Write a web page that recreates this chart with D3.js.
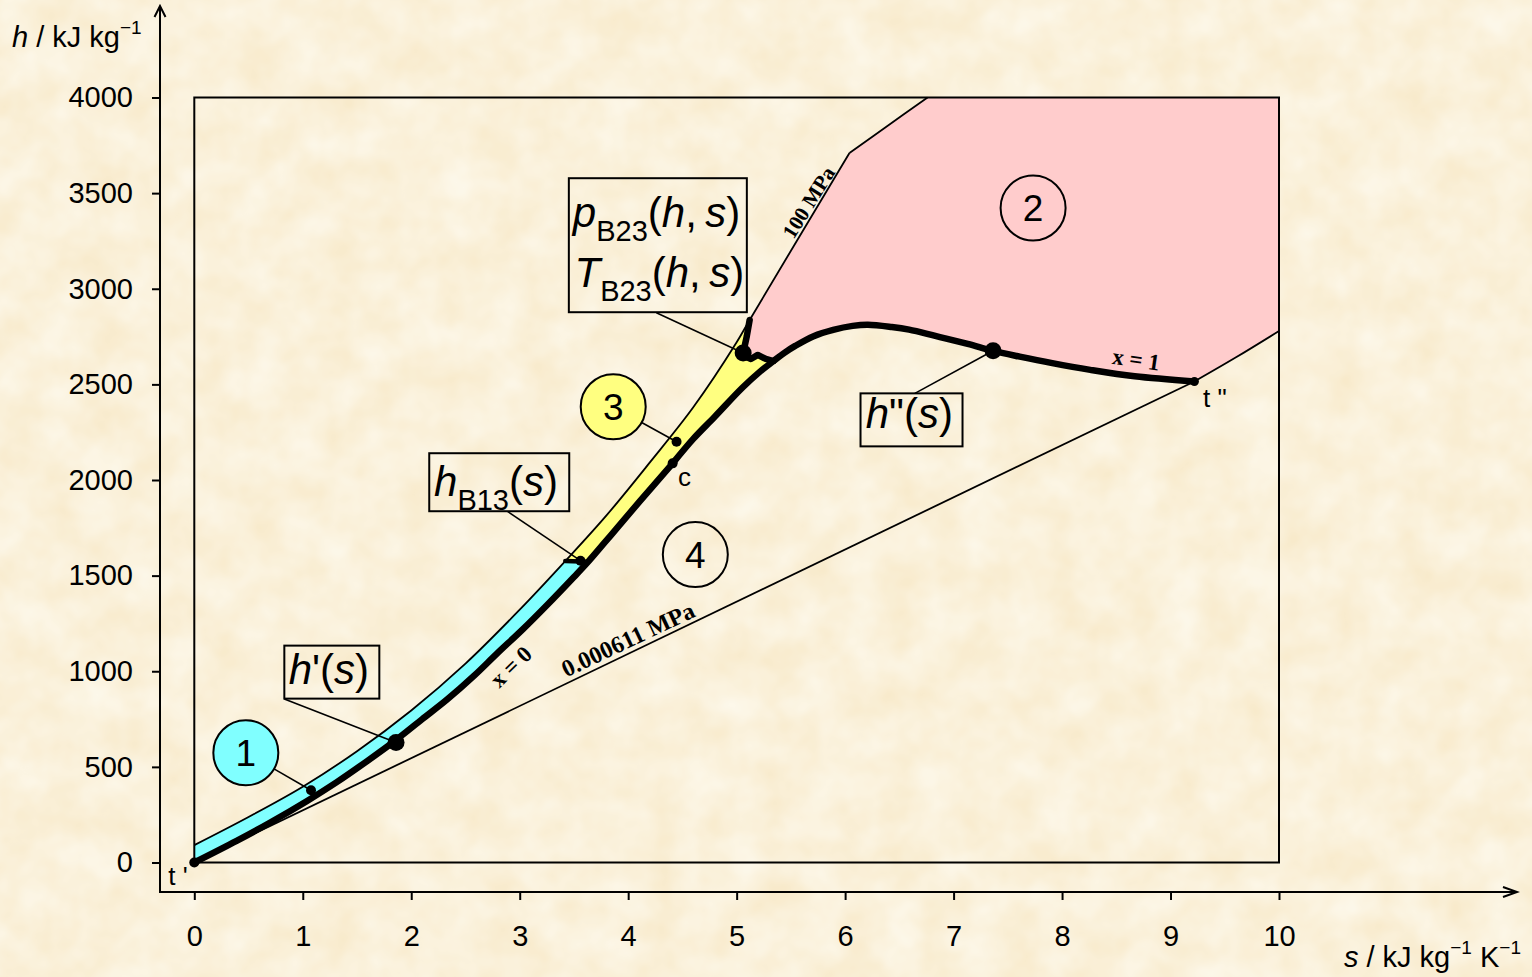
<!DOCTYPE html>
<html>
<head>
<meta charset="utf-8">
<script src="https://cdn.jsdelivr.net/npm/d3@7"></script>
<style>
  html, body { margin: 0; padding: 0; background: #f9eed3; }
  svg { display: block; }
  text { font-family: "Liberation Sans", Arial, Helvetica, sans-serif; fill: #000; }
  .serif { font-family: "Liberation Serif", "Times New Roman", serif; font-weight: bold; }
</style>
</head>
<body>
<div id="chart"></div>
<script>
// axis ticks
const sTicks = [0, 1, 2, 3, 4, 5, 6, 7, 8, 9, 10]
const hTicks = [0, 500, 1000, 1500, 2000, 2500, 3000, 3500, 4000]

// saturated liquid line x = 0, t' -> c  (s in kJ/(kg K), h in kJ/kg)
const satLiqS = [0, 0.39, 0.70, 1.04, 1.31, 1.60, 1.84, 2.10, 2.33, 2.58, 2.79, 3.03, 3.25, 3.50, 3.63, 3.78, 3.92, 4.11, 4.41]
const satLiqH = [0, 113, 209, 322, 419, 533, 632, 749, 852, 977, 1092, 1220, 1345, 1493, 1572, 1671, 1764, 1891, 2087]

// saturated vapour line x = 1, c -> t''
const satVapS = [4.41, 4.60, 4.80, 5.05, 5.21, 5.34, 5.44, 5.54, 5.71, 5.89, 6.07, 6.21, 6.43, 6.59, 6.84, 7.13, 7.36, 7.61, 7.91, 8.26, 8.67, 9.22]
const satVapH = [2087, 2215, 2332, 2481, 2564, 2622, 2665, 2701, 2752, 2785, 2806, 2812, 2800, 2786, 2752, 2712, 2676, 2645, 2611, 2576, 2542, 2515]

// 100 MPa isobar
const p100S = [0, 0.5, 1.0, 1.5, 2.0, 2.5, 3.0, 3.42, 3.8, 4.2, 4.6, 5.0, 5.12, 6.04]
const p100H = [91, 238, 396, 582, 795, 1040, 1322, 1576, 1815, 2092, 2380, 2720, 2837, 3710]

// 1073.15 K isotherm (upper limit of region 2)
const t1073S = [6.04, 6.38, 6.76]
const t1073H = [3710, 3847, 4000]

// 0.000611 MPa isobar, t' -> t'' -> s = 10
const pTripS = [0, 9.22, 9.6, 10]
const pTripH = [0, 2515, 2640, 2779]

// boundary lines B13 and B23
const b13S = [3.42, 3.63]
const b13H = [1576, 1572]
const b23S = [5.12, 5.094, 5.06, 5.10, 5.131, 5.195, 5.269, 5.34]
const b23H = [2837, 2753, 2664, 2640, 2633, 2654, 2633, 2622]

const W = 1532, H = 977

const x = d3.scaleLinear().domain([0, 10]).range([194.3, 1279])
const y = d3.scaleLinear().domain([0, 4000]).range([862.5, 97.5])

const svg = d3.select("#chart").append("svg")
    .attr("width", W)
    .attr("height", H)

// parchment background
const defs = svg.append("defs")
const paper = defs.append("filter")
    .attr("id", "paper")
    .attr("filterUnits", "userSpaceOnUse")
    .attr("x", 0).attr("y", 0).attr("width", W).attr("height", H)
paper.append("feTurbulence")
    .attr("type", "fractalNoise")
    .attr("baseFrequency", 0.025)
    .attr("numOctaves", 3)
    .attr("seed", 11)
paper.append("feColorMatrix")
    .attr("type", "matrix")
    .attr("values", "0 0 0 0 1  0 0 0 0 1  0 0 0 0 0.96  0.8 0 0 0 -0.08")

svg.append("rect").attr("width", W).attr("height", H).attr("fill", "#f8eacb")
svg.append("rect").attr("width", W).attr("height", H).attr("filter", "url(#paper)")

const pts = (sArr, hArr) => sArr.map((s, i) => [s, hArr[i]])
const liq = pts(satLiqS, satLiqH)
const vap = pts(satVapS, satVapH)
const p100 = pts(p100S, p100H)
const t1073 = pts(t1073S, t1073H)
const pTrip = pts(pTripS, pTripH)
const b13 = pts(b13S, b13H)
const b23 = pts(b23S, b23H)

const lineCurve = d3.line().x(d => x(d[0])).y(d => y(d[1])).curve(d3.curveCatmullRom.alpha(0.5))
const lineStraight = d3.line().x(d => x(d[0])).y(d => y(d[1]))

function joinPath(parts) {
    return parts.map((p, i) => i ? p.replace(/^M/, "L") : p).join("") + "Z"
}

const iB13top = p100S.indexOf(b13S[0])
const iB23top = p100S.indexOf(b23S[0])
const iLiqB13 = satLiqS.indexOf(b13S[1])
const iVapB23 = satVapS.indexOf(b23S[b23S.length - 1])
const rev = a => a.slice().reverse()

// region 1
svg.append("path")
    .attr("d", joinPath([
        lineStraight([[0, 0], [0, p100H[0]]]),
        lineCurve(p100.slice(0, iB13top + 1)),
        lineStraight(b13),
        lineCurve(rev(liq.slice(0, iLiqB13 + 1)))
    ]))
    .attr("fill", "#80ffff")

// region 3
svg.append("path")
    .attr("d", joinPath([
        lineCurve(p100.slice(iB13top, iB23top + 1)),
        lineStraight(b23),
        lineCurve(rev(vap.slice(0, iVapB23 + 1))),
        lineCurve(rev(liq.slice(iLiqB13))),
        lineStraight(rev(b13))
    ]))
    .attr("fill", "#ffff80")

// region 2
svg.append("path")
    .attr("d", joinPath([
        lineCurve(p100.slice(iB23top)),
        lineCurve(t1073),
        lineStraight([t1073[t1073.length - 1], [10, 4000], [10, pTripH[pTripH.length - 1]]]),
        lineCurve(rev(pTrip.slice(1))),
        lineCurve(rev(vap.slice(iVapB23))),
        lineStraight(rev(b23))
    ]))
    .attr("fill", "#ffcccc")

// thin lines: isobars and isotherm
const thin = svg.append("g").attr("fill", "none").attr("stroke", "#000").attr("stroke-width", 1.8)
thin.append("path").attr("d", lineCurve(p100))
thin.append("path").attr("d", lineCurve(t1073))
thin.append("path").attr("d", lineStraight(pTrip.slice(0, 2)))
thin.append("path").attr("d", lineCurve(pTrip.slice(1)))

// thick lines: saturation line and boundaries
const thick = svg.append("g").attr("fill", "none").attr("stroke", "#000")
    .attr("stroke-linecap", "round").attr("stroke-linejoin", "round")
thick.append("path").attr("d", lineCurve(liq)).attr("stroke-width", 6.5)
thick.append("path").attr("d", lineCurve(vap)).attr("stroke-width", 6.5)
thick.append("path").attr("d", lineStraight(b13)).attr("stroke-width", 4.5)
thick.append("path").attr("d", lineStraight(b23)).attr("stroke-width", 6.5)

// plot frame
svg.append("rect")
    .attr("x", x(0)).attr("y", y(4000))
    .attr("width", x(10) - x(0)).attr("height", y(0) - y(4000))
    .attr("fill", "none").attr("stroke", "#000").attr("stroke-width", 2)

// axes
const yAxis = svg.append("g")
    .attr("transform", "translate(160,0)")
    .call(d3.axisLeft(y).tickValues(hTicks).tickFormat(d3.format("d")).tickSize(8).tickPadding(19))
const xAxis = svg.append("g")
    .attr("transform", "translate(0,892)")
    .call(d3.axisBottom(x).tickValues(sTicks).tickFormat(d3.format("d")).tickSize(8).tickPadding(25))
for (const ax of [yAxis, xAxis]) {
    ax.attr("font-size", 29).attr("font-family", null)
    ax.select(".domain").remove()
    ax.selectAll(".tick line").attr("stroke", "#000").attr("stroke-width", 2)
}

const axes = svg.append("g").attr("fill", "none").attr("stroke", "#000").attr("stroke-width", 2)
axes.append("path").attr("d", "M160,893V6M154.5,17L160,6L165.5,17")
axes.append("path").attr("d", "M159,892H1517M1503,887L1517,892L1503,897")

// axis titles
const yTitle = svg.append("text").attr("x", 12).attr("y", 47).attr("font-size", 29)
yTitle.append("tspan").attr("font-style", "italic").text("h")
yTitle.append("tspan").text(" / kJ kg")
yTitle.append("tspan").attr("font-size", 19).attr("dy", -13).text("\u22121")

const xTitle = svg.append("text").attr("x", 1521).attr("y", 967).attr("font-size", 29).attr("text-anchor", "end")
xTitle.append("tspan").attr("font-style", "italic").text("s")
xTitle.append("tspan").text(" / kJ kg")
xTitle.append("tspan").attr("font-size", 19).attr("dy", -13).text("\u22121")
xTitle.append("tspan").attr("dy", 13).text(" K")
xTitle.append("tspan").attr("font-size", 19).attr("dy", -13).text("\u22121")

// line labels
const lineLabels = [
    { text: "100 MPa", s: 5.72, h: 3432, angle: -58, size: 21 },
    { text: "x = 0", s: 2.97, h: 995, angle: -44, size: 23 },
    { text: "0.000611 MPa", s: 4.03, h: 1128, angle: -25.3, size: 24 },
    { text: "x = 1", s: 8.673, h: 2590, angle: 8.2, size: 23 }
]
svg.append("g").selectAll("text").data(lineLabels).join("text")
    .attr("class", "serif")
    .attr("font-size", d => d.size)
    .attr("text-anchor", "middle")
    .attr("transform", d => `translate(${x(d.s)},${y(d.h)}) rotate(${d.angle})`)
    .text(d => d.text)

// leader lines (from label to marked point)
const leaders = [
    { from: [0.83, 855], to: [1.86, 628] },
    { from: [2.89, 1835], to: [3.56, 1578] },
    { from: [4.26, 2875], to: [5.06, 2664] },
    { from: [6.643, 2453], to: [7.364, 2676] }
]
svg.append("g").selectAll("line").data(leaders).join("line")
    .attr("x1", d => x(d.from[0])).attr("y1", d => y(d.from[1]))
    .attr("x2", d => x(d.to[0])).attr("y2", d => y(d.to[1]))
    .attr("stroke", "#000").attr("stroke-width", 1.6)

// region number circles
const regions = [
    { label: "1", s: 0.475, h: 574, fill: "#80ffff", dot: [1.076, 378] },
    { label: "2", s: 7.733, h: 3422, fill: "none", dot: null },
    { label: "3", s: 3.862, h: 2383, fill: "#ffff80", dot: [4.446, 2200] },
    { label: "4", s: 4.619, h: 1610, fill: "none", dot: null }
]
const R = 32.5
regions.forEach(d => {
    const cx = x(d.s), cy = y(d.h)
    if (d.dot) {
        const dx = x(d.dot[0]) - cx, dy = y(d.dot[1]) - cy
        const len = Math.hypot(dx, dy)
        svg.append("line")
            .attr("x1", cx + dx / len * R).attr("y1", cy + dy / len * R)
            .attr("x2", x(d.dot[0])).attr("y2", y(d.dot[1]))
            .attr("stroke", "#000").attr("stroke-width", 1.6)
    }
    svg.append("circle")
        .attr("cx", cx).attr("cy", cy).attr("r", R)
        .attr("fill", d.fill).attr("stroke", "#000").attr("stroke-width", 2)
    svg.append("text")
        .attr("x", cx).attr("y", cy).attr("dy", "0.36em")
        .attr("text-anchor", "middle").attr("font-size", 37)
        .text(d.label)
})

// points
const dots = [
    { s: 0, h: 0, r: 5 },
    { s: 9.22, h: 2515, r: 4.5 },
    { s: 4.41, h: 2087, r: 5 },
    { s: 1.076, h: 378, r: 5 },
    { s: 4.446, h: 2200, r: 5 },
    { s: 3.56, h: 1578, r: 5 },
    { s: 1.86, h: 628, r: 8.5 },
    { s: 5.06, h: 2664, r: 8.5 },
    { s: 7.364, h: 2676, r: 8.5 }
]
svg.append("g").selectAll("circle").data(dots).join("circle")
    .attr("cx", d => x(d.s)).attr("cy", d => y(d.h)).attr("r", d => d.r)
    .attr("fill", "#000")

// point names
const names = [
    { text: "t '", s: -0.24, h: -117 },
    { text: "t \"", s: 9.3, h: 2383 },
    { text: "c", s: 4.46, h: 1970 }
]
svg.append("g").selectAll("text").data(names).join("text")
    .attr("x", d => x(d.s)).attr("y", d => y(d.h))
    .attr("font-size", 26)
    .text(d => d.text)

// function boxes
function box(s, h, w, ht) {
    svg.append("rect")
        .attr("x", x(s)).attr("y", y(h))
        .attr("width", w).attr("height", ht)
        .attr("fill", "none").attr("stroke", "#000").attr("stroke-width", 2)
}
function formula(s, h, parts) {
    const t = svg.append("text").attr("x", x(s)).attr("y", y(h)).attr("font-size", 42)
    let shift = 0
    parts.forEach(p => {
        const ts = t.append("tspan").text(p.t)
        if (p.i) ts.attr("font-style", "italic")
        const want = p.sub ? 14 : 0
        if (want !== shift) { ts.attr("dy", want - shift); shift = want }
        if (p.sub) ts.attr("font-size", 29)
    })
}

box(0.83, 1134, 95, 53)
formula(0.87, 933, [{ t: "h", i: 1 }, { t: "'(" }, { t: "s", i: 1 }, { t: ")" }])

box(2.166, 2140, 140, 58)
formula(2.21, 1917, [{ t: "h", i: 1 }, { t: "B13", sub: 1 }, { t: "(" }, { t: "s", i: 1 }, { t: ")" }])

box(3.453, 3578, 178, 134)
formula(3.49, 3325, [{ t: "p", i: 1 }, { t: "B23", sub: 1 }, { t: "(" }, { t: "h", i: 1 }, { t: ",\u2009" }, { t: "s", i: 1 }, { t: ")" }])
formula(3.505, 3010, [{ t: "T", i: 1 }, { t: "B23", sub: 1 }, { t: "(" }, { t: "h", i: 1 }, { t: ",\u2009" }, { t: "s", i: 1 }, { t: ")" }])

box(6.142, 2453, 102, 53)
formula(6.19, 2270, [{ t: "h", i: 1 }, { t: "\"(" }, { t: "s", i: 1 }, { t: ")" }])
</script>
</body>
</html>
